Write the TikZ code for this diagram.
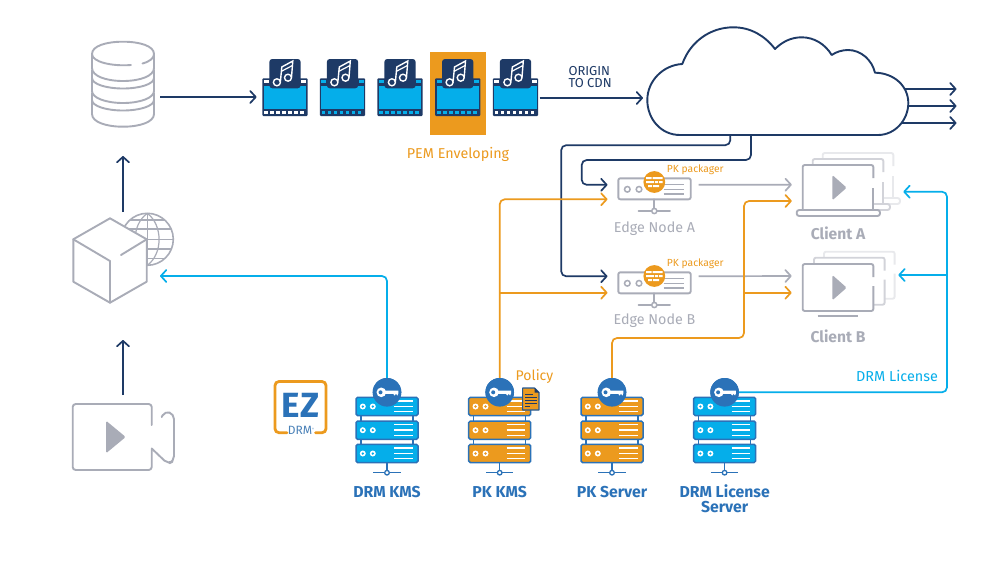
\documentclass[tikz,border=0pt]{standalone}
\usepackage{fontspec}
\setmainfont{Fira Sans}
\usetikzlibrary{arrows.meta,calc}
\definecolor{navy}{HTML}{1E3A66}
\definecolor{cyanb}{HTML}{05AEEA}
\definecolor{orangeb}{HTML}{EC9A1E}
\definecolor{greyb}{HTML}{A9ACB7}
\definecolor{greym}{HTML}{D2D3D9}
\definecolor{greyl}{HTML}{E8E9EC}
\definecolor{srvblue}{HTML}{2B72B8}
\tikzset{
  ghost/.style={inner sep=0pt,outer sep=0pt,draw=none},
  tip/.style={-{Straight Barb[length=5.5pt,width=12pt,line width=1.7pt,round]}},
  conn/.style={line width=1.7pt,rounded corners=5pt,tip},
  navyline/.style={conn,draw=navy},
  orangeline/.style={conn,draw=orangeb},
  cyanline/.style={conn,draw=cyanb},
  greyline/.style={conn,draw=greyb},
  icon/.style={draw=greyb,line width=1.9pt,line cap=round,line join=round},
  keydisc/.style={circle,fill=srvblue,minimum size=28.6pt,inner sep=0pt,outer sep=0pt},
  srvlabel/.style={text=srvblue,font=\fontsize{15.8}{15}\selectfont\bfseries,align=center,inner sep=0pt},
  edgelabel/.style={text=greyb,font=\fontsize{14.3}{15}\selectfont,inner sep=0pt},
  clientlabel/.style={text=greyb,font=\fontsize{15.6}{15}\selectfont\bfseries,inner sep=0pt},
  pklabel/.style={text=orangeb,font=\fontsize{10.3}{11}\selectfont,inner sep=0pt,anchor=west},
}
% film strip with a music note; #1 = left x, #2 = hole colour
\newcommand\filmicon[2]{%
  \begin{scope}[shift={(#1,0)}]
    \fill[navy,rounded corners=1pt] (0,78.3) rectangle (45.4,116);
    \fill[cyanb] (1.6,85.5) rectangle (43.8,108.5);
    \fill[#2] (1.6,80) rectangle (6.5,83.2);
    \fill[#2] (38.9,80) rectangle (43.8,83.2);
    \foreach \k in {0,...,6} {\fill[#2] ({2+\k*6},110.6) rectangle ({5.6+\k*6},113.8);}
    \fill[navy,rounded corners=3pt] (7,59) rectangle (38.4,88.3);
    \draw[white,line width=1.4pt] (14.6,82.3) circle (3.5);
    \draw[white,line width=1.4pt] (25.7,77.7) circle (3.5);
    \draw[white,line width=1.4pt] (18.1,81.6) -- (19.5,67) -- (30.5,61) -- (29.2,77.2);
    \draw[white,line width=1.2pt] (19.3,71.2) -- (30,65.6);
  \end{scope}}
% server rack; #1 = centre x, #2 = fill colour
\newcommand\srvbox[3]{%
  \filldraw[fill=#2,draw=srvblue,line width=1.5pt,rounded corners=1.6pt] (-31,#3) rectangle (31,#3+18.3);
  \fill[white] (-24.2,#3+9.2) circle (3);
  \fill[#2] (-24.2,#3+9.2) circle (1.3);
  \fill[white] (-14.2,#3+9.2) circle (3);
  \fill[#2] (-14.2,#3+9.2) circle (1.3);
  \foreach \d in {3.7,9.1,14.5} {\draw[white,line width=1.3pt] (7,#3+\d) -- (25.7,#3+\d);}}
\newcommand\servericon[2]{%
  \begin{scope}[shift={(#1,0)}]
    \draw[srvblue,line width=1.5pt] (-26,415) -- (-26,445) (26,415) -- (26,445);
    \srvbox{0}{#2}{397.3}
    \srvbox{0}{#2}{421}
    \srvbox{0}{#2}{444.3}
    \draw[srvblue,line width=1.5pt] (0,462.7) -- (0,470.3) (-13.7,472.7) -- (-2.5,472.7) (2.5,472.7) -- (13.7,472.7);
    \draw[srvblue,line width=1.3pt] (0,472.7) circle (2.3);
  \end{scope}}
\newcommand\keyglyph[1]{%
  \begin{scope}[shift={(#1)}]
    \fill[white] (-5.7,0) circle (4.8);
    \fill[white] (-3,-1.7) -- (11.3,-1.7) -- (11.3,1.2) -- (10.4,3.2) -- (9,1.5) -- (7.6,3.2) -- (6.2,1.5) -- (-3,1.5) -- cycle;
    \fill[srvblue] (-6.5,0) circle (2);
  \end{scope}}
% edge node; #1 = y offset
\newcommand\edgeicon[1]{%
  \begin{scope}[shift={(0,#1)}]
    \draw[icon,rounded corners=2pt] (618.3,178.3) rectangle (690.7,199.3);
    \draw[greyb,line width=1.5pt] (627.3,189.3) circle (2.8) (639,189.3) circle (2.8);
    \draw[greyb,line width=1.3pt] (663.5,184.5) -- (684,184.5) (663.5,189.4) -- (684,189.4) (663.5,194) -- (684,194);
    \draw[icon] (654.3,199.3) -- (654.3,208.3) (638.5,211) -- (651.5,211) (657.2,211) -- (670,211);
    \draw[greyb,line width=1.5pt] (654.3,211) circle (2.6);
    \fill[orangeb] (654.3,182) circle (10.9);
    \fill[white] (646,177) rectangle (651.5,179.2) (652.5,177) rectangle (662.5,179.2);
    \fill[white] (646,181) rectangle (654,183.2) (655,181) rectangle (658,183.2) (659,181) rectangle (662.5,183.2);
    \fill[white] (648,185) rectangle (652,187.2) (653,185) rectangle (659,187.2);
  \end{scope}}
\newcommand\laptoplayer[3]{%
  \begin{scope}[shift={(#1,#2)}]
    \fill[white] (802.7,165) rectangle (873.3,210);
    \draw[draw=#3,line width=1.9pt,rounded corners=2pt] (802.7,210) -- (802.7,165) -- (873.3,165) -- (873.3,178);
    \draw[draw=#3,line width=1.9pt] (873.3,188) -- (873.3,210);
    \filldraw[fill=white,draw=#3,line width=1.9pt,rounded corners=2.5pt] (796.7,210) rectangle (880,216);
  \end{scope}}
\newcommand\monitorlayer[3]{%
  \begin{scope}[shift={(#1,#2)}]
    \fill[white] (802.7,264) rectangle (873.3,311);
    \draw[draw=#3,line width=1.9pt,rounded corners=2pt] (873.3,277) -- (873.3,264) -- (802.7,264) -- (802.7,311) -- (873.3,311) -- (873.3,286);
  \end{scope}}
\begin{document}
\begin{tikzpicture}[x=1pt,y=-1pt]
\useasboundingbox (0,0) rectangle (1000,562);
\fill[white] (0,0) rectangle (1000,562);

% --- anchors for the icons
\node[ghost,minimum width=75pt,minimum height=86pt] (db) at (122.7,84) {};
\node[ghost,minimum width=74pt,minimum height=84.5pt] (cube) at (110,260.5) {};
\node[ghost,minimum width=79pt,minimum height=66pt] (cam) at (112,437) {};
\node[ghost,minimum width=45.4pt,minimum height=57pt] (film1) at (285,87.5) {};
\node[ghost,minimum width=45.4pt,minimum height=57pt] (film5) at (515.5,87.5) {};
\node[ghost,minimum width=261pt,minimum height=108pt] (cloud) at (777.8,81) {};
\node[ghost,minimum width=72.4pt,minimum height=21pt] (ea) at (654.5,188.8) {};
\node[ghost,minimum width=72.4pt,minimum height=21pt] (eb) at (654.5,282.8) {};
\node[ghost,minimum width=83pt,minimum height=51pt] (ca) at (838.3,190.5) {};
\node[ghost,minimum width=70.6pt,minimum height=51.7pt] (cb) at (838,289.9) {};
\coordinate (db-out) at ([yshift=-13pt]db.east);
\coordinate (f1-in) at ([shift={(-5.7,9.5)}]film1.west);
\coordinate (f5-out) at ([shift={(1.5,10.5)}]film5.east);
\coordinate (cl-in) at (643,98);
\coordinate (ea-navy) at ([shift={(-10.8,-4)}]ea.west);
\coordinate (ea-orange) at ([shift={(-10.8,10.5)}]ea.west);
\coordinate (eb-navy) at ([shift={(-10.8,-6.5)}]eb.west);
\coordinate (eb-orange) at ([shift={(-10.8,9.9)}]eb.west);
\coordinate (ea-out) at ([shift={(7.8,-4)}]ea.east);
\coordinate (eb-out) at ([shift={(7.8,-6.5)}]eb.east);
\coordinate (ca-grey) at ([shift={(-5,-5.8)}]ca.west);
\coordinate (ca-orange) at ([shift={(-5,10.5)}]ca.west);
\coordinate (cb-grey) at ([shift={(-11,-13.9)}]cb.west);
\coordinate (cb-orange) at ([shift={(-11,2.8)}]cb.west);
\coordinate (ca-lic) at (903.3,191.7);
\coordinate (cb-lic) at (898.3,275);
\coordinate (trunk-b) at (947,275);
\coordinate (cube-in) at (160,276);
\coordinate (cube-top) at (123,212);
\coordinate (db-bot) at (123,156);
\coordinate (cam-top) at (123,395);
\coordinate (cube-bot) at (123,340);
\coordinate (out1a) at (956.5,89);
\coordinate (out2a) at (956.5,106);
\coordinate (out3a) at (956.5,123);
\coordinate (out1) at (880,89);
\coordinate (out2) at (890,106);
\coordinate (out3) at (880,123);
\coordinate (clA) at (730.3,133);
\coordinate (clB) at (751,133);

% --- server key discs
\node[keydisc] (kdrm) at (387,392.3) {};
\node[keydisc] (kpk) at (499.7,392.3) {};
\node[keydisc] (kps) at (612,392.3) {};
\node[keydisc] (klic) at (724.6,392.3) {};

% --- connectors
\draw[navyline] (db-out) -- (f1-in);
\draw[navyline] (f5-out) -- (cl-in);
\draw[navyline] (cube-top) -- (db-bot);
\draw[navyline] (cam-top) -- (cube-bot);
\draw[navyline] (out1) -- (out1a);
\draw[navyline] (out2) -- (out2a);
\draw[navyline] (out3) -- (out3a);
\draw[navyline] (clB) |- (581.7,160) |- (ea-navy);
\draw[navyline] (clA) |- (561.2,145.2) |- (eb-navy);
\draw[greyline] (ea-out) -- (ca-grey);
\draw[greyline] (eb-out) -- (cb-grey);
\draw[orangeline] (kpk.north) |- (ea-orange);
\draw[orangeline,rounded corners=0pt] (500,292.7) -- (eb-orange);
\draw[orangeline] (kps.north) |- (744,338) |- (ca-orange);
\draw[orangeline,rounded corners=0pt] (744,292.7) -- (cb-orange);
\draw[cyanline] (kdrm.north) |- (cube-in);
\draw[cyanline] (klic.east) -| (947,300) |- (ca-lic);
\draw[draw=cyanb,line width=1.7pt,tip] (trunk-b) -- (cb-lic);

% --- database
\begin{scope}[icon]
  \draw (92,54) .. controls (92,46) and (106,41.7) .. (123,41.7) .. controls (140,41.7) and (154,46) .. (154,54)
        .. controls (154,58) and (150,61.5) .. (142.5,63.5);
  \draw (131,65) .. controls (112,66.5) and (92,62) .. (92,54);
  \draw (92,54) -- (92,68) .. controls (92,76) and (106,81) .. (123,81) .. controls (140,81) and (154,76) .. (154,68) -- (154,54);
  \draw (92,70) -- (92,78) .. controls (92,84) and (106,88.5) .. (123,88.5) .. controls (140,88.5) and (154,84) .. (154,78) -- (154,70);
  \draw (92,78) -- (92,91) .. controls (92,98) and (106,103) .. (123,103) .. controls (140,103) and (154,98) .. (154,91) -- (154,78);
  \draw (92,93) -- (92,100) .. controls (92,106) and (106,110.5) .. (123,110.5) .. controls (140,110.5) and (154,106) .. (154,100) -- (154,93);
  \draw (92,100) -- (92,114) .. controls (92,122) and (106,126.7) .. (123,126.7) .. controls (140,126.7) and (154,122) .. (154,114) -- (154,100);
\end{scope}

% --- globe and cube
\begin{scope}
  \clip (147.3,239.3) circle (26);
  \draw[greyb,line width=1.2pt] (147.3,213) -- (147.3,266);
  \draw[greyb,line width=1.2pt] (147.3,213.3) .. controls (131,225) and (131,254) .. (147.3,265.3);
  \draw[greyb,line width=1.2pt] (147.3,213.3) .. controls (163,225) and (163,254) .. (147.3,265.3);
  \foreach \yy in {220,229,239.3,249,258.5} {\draw[greyb,line width=1.2pt] (120,\yy) -- (175,\yy);}
\end{scope}
\draw[greyb,line width=1.6pt] (147.3,239.3) circle (26);
\filldraw[icon,fill=white] (110,218.3) -- (146.7,239.3) -- (146.7,281.7) -- (110,302.7) -- (73.3,281.7) -- (73.3,239.3) -- cycle;
\draw[icon] (73.3,239.3) -- (110,261) -- (110,302.7);
\draw[icon] (121,255) -- (146.7,239.3);

% --- camera
\draw[icon,rounded corners=3pt] (151.7,425) -- (151.7,404) -- (72.7,404) -- (72.7,470) -- (151.7,470) -- (151.7,448.5);
\draw[icon,rounded corners=5pt] (151.7,448.5) -- (168,464) -- (174,461) -- (174,414) -- (165,411) -- (161.7,417);
\fill[greyb,rounded corners=1.5pt] (106,420.7) -- (125.7,437) -- (106,453.3) -- cycle;

% --- films
\fill[orangeb] (430.3,52) rectangle (485.7,135.3);
\filmicon{262.3}{white}
\filmicon{319.8}{cyanb}
\filmicon{377.3}{cyanb}
\filmicon{435}{cyanb}
\filmicon{492.8}{white}
\node[text=orangeb,font=\fontsize{14.3}{15}\selectfont,inner sep=0pt] (pem) at (458,154.5) {PEM Enveloping};
\node[text=navy,font=\fontsize{13}{13}\selectfont,align=left,inner sep=0pt,anchor=north west] (origin) at (568.3,65.8) {ORIGIN\\[-0.2pt]TO CDN};

% --- cloud
\filldraw[fill=white,draw=navy,line width=1.9pt,line join=round]
  (680,135) .. controls (661,135) and (647.3,119) .. (647.3,100)
  .. controls (647.3,81) and (663,65) .. (682.3,64)
  .. controls (690,42) and (710,27.3) .. (733.3,27.3)
  .. controls (751,27.3) and (765,36) .. (775,49)
  .. controls (782,42) and (791,37.3) .. (801.7,37.3)
  .. controls (814,37.3) and (825,44) .. (831.7,55)
  .. controls (836,52) and (842,50) .. (848,50)
  .. controls (861,50) and (872,60) .. (875,72.7)
  .. controls (894,73) and (908.3,86) .. (908.3,103)
  .. controls (908.3,120) and (895,135) .. (878,135) -- cycle;

% --- edge nodes
\edgeicon{0}
\edgeicon{94}
\node[pklabel] (pka) at (666.7,170) {PK packager};
\node[pklabel] (pkb) at (666.7,263.3) {PK packager};
\node[edgelabel] (ena) at (654.5,228.3) {Edge Node A};
\node[edgelabel] (enb) at (654.5,321) {Edge Node B};

% --- clients
\laptoplayer{20}{-12}{greyl}
\laptoplayer{10}{-6}{greym}
\laptoplayer{0}{0}{greyb}
\fill[greyb,rounded corners=1.5pt] (832.3,175) -- (846.7,187.7) -- (832.3,200.3) -- cycle;
\node[clientlabel] (cla) at (838,233.3) {Client A};
\monitorlayer{21.3}{-12.3}{greyl}
\monitorlayer{11.3}{-6.3}{greym}
\monitorlayer{0}{0}{greyb}
\draw[greyb,line width=1.9pt] (817.7,315.7) -- (858.3,315.7);
\fill[greyb,rounded corners=1.5pt] (832.3,275) -- (846.7,287.7) -- (832.3,300.3) -- cycle;
\node[clientlabel] (clb) at (838,336.7) {Client B};

% --- servers
\servericon{387}{cyanb}
\servericon{499.7}{orangeb}
\servericon{612}{orangeb}
\servericon{724.6}{cyanb}
\node[keydisc] (kdrm2) at (kdrm) {};
\node[keydisc] (kpk2) at (kpk) {};
\node[keydisc] (kps2) at (kps) {};
\node[keydisc] (klic2) at (klic) {};
\keyglyph{kdrm}
\keyglyph{kpk}
\keyglyph{kps}
\keyglyph{klic}
\node[srvlabel] (l1) at (387,491.7) {DRM KMS};
\node[srvlabel] (l2) at (499.7,491.7) {PK KMS};
\node[srvlabel] (l3) at (612,491.7) {PK Server};
\node[srvlabel,anchor=north] (l4) at (724.6,484.3) {DRM License\\Server};

% --- policy document
\filldraw[fill=orangeb,draw=srvblue!55!navy,line width=1.2pt,line join=round] (522.6,388) -- (534.5,388) -- (539,392.5) -- (539,410) -- (522.6,410) -- cycle;
\fill[navy] (534.5,388) -- (539,392.5) -- (534.5,392.5) -- cycle;
\draw[navy,line width=1pt] (525,394.5) -- (533,394.5) (525,397.5) -- (536.5,397.5) (525,400.5) -- (536.5,400.5) (525,403.5) -- (536.5,403.5) (525,406.5) -- (530,406.5);
\node[text=orangeb,font=\fontsize{14}{15}\selectfont,inner sep=0pt] (pol) at (534.5,377) {Policy};
\node[text=cyanb,font=\fontsize{14.4}{15}\selectfont,inner sep=0pt] (lic) at (897,375.7) {DRM License};

% --- EZ logo
\draw[orangeb,line width=2.8pt,line cap=round,rounded corners=4pt] (287,432.7) -- (275,432.7) -- (275,381.5) -- (326,381.5) -- (326,432.7) -- (315.5,432.7);
\node[text=srvblue,font=\fontsize{35}{36}\selectfont\bfseries,inner sep=0pt] (ez) at (300.5,405.5) {EZ};
\node[text=srvblue!75!greyb,font=\fontsize{12}{13}\selectfont,inner sep=0pt] (ezd) at (301,430) {DRM\raisebox{4pt}{\fontsize{3}{3}\selectfont ®}};
\end{tikzpicture}
\end{document}
